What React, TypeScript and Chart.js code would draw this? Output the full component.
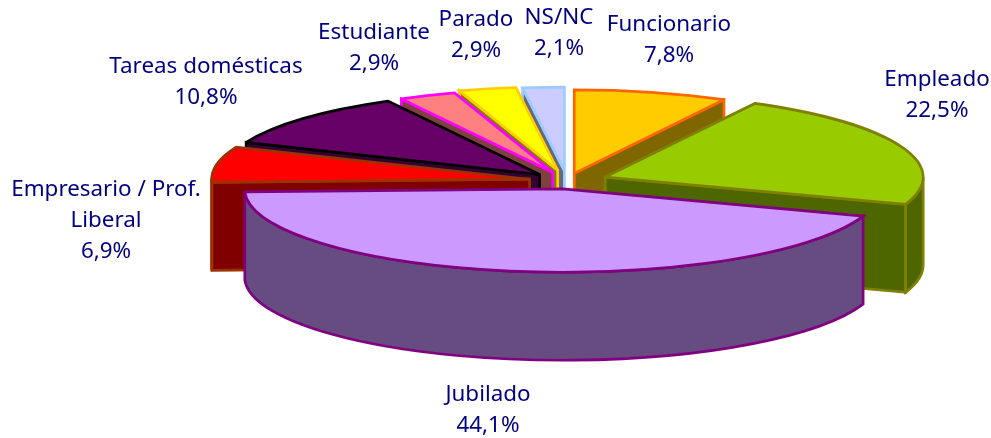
import { useEffect, useRef } from "react";
import { Chart, registerables } from "chart.js";

Chart.register(...registerables);

const categories = ["Funcionario", "Empleado", "Jubilado", "Empresario / Prof.|Liberal", "Tareas domésticas", "Estudiante", "Parado", "NS/NC"];
const shares = [7.8, 22.5, 44.1, 6.9, 10.8, 2.9, 2.9, 2.1];

const topColors = ["#FFCC00", "#99CC00", "#CC99FF", "#FF0000", "#660066", "#FF8080", "#FFFF00", "#CCCCFF"];
const wallColors = ["#806600", "#4D6600", "#664C80", "#800000", "#330033", "#804040", "#808000", "#666680"];
const edgeColors = ["#FF6600", "#808000", "#800080", "#993300", "#000000", "#FF00FF", "#FFCC00", "#99CCFF"];
const explode = [30, 41, 30, 38, 37, 36, 42, 40];
const drawOrder = [0, 7, 6, 5, 4, 3, 1, 2];
const labelCentres: [number, number][] = [
  [669, 25], [937, 80], [488, 395], [106, 190], [206, 67], [374, 33], [476, 20], [559, 18],
];

const SQUASH = 0.2625;
const DEPTH = 88;
const LINE_HEIGHT = 31;
const FONT = '22.4px "Noto Sans"';

const pie3d = {
  id: "pie3d",
  beforeDatasetDraw(chart: any, args: any) {
    const ctx: CanvasRenderingContext2D = chart.ctx;
    const arcs = args.meta.data;
    const outline = (colour: string) => {
      ctx.lineWidth = 2.7;
      ctx.lineJoin = "miter";
      ctx.miterLimit = 3;
      ctx.strokeStyle = colour;
      ctx.stroke();
    };
    for (const i of drawOrder) {
      const arc = arcs[i];
      const { x, y, startAngle, endAngle, outerRadius: R } = arc.getProps(["x", "y", "startAngle", "endAngle", "outerRadius"]);
      const off = arc.options.offset || 0;
      const mid = (startAngle + endAngle) / 2;
      const ax = x + Math.cos(mid) * off;
      const ay = y + Math.sin(mid) * off * SQUASH;
      const px = (a: number) => ax + Math.cos(a) * R;
      const py = (a: number) => ay + Math.sin(a) * R * SQUASH;
      const radial = (a: number) => {
        ctx.beginPath();
        ctx.moveTo(ax, ay);
        ctx.lineTo(px(a), py(a));
        ctx.lineTo(px(a), py(a) + DEPTH);
        ctx.lineTo(ax, ay + DEPTH);
        ctx.closePath();
        ctx.fillStyle = wallColors[i];
        ctx.fill();
        outline(edgeColors[i]);
      };
      if (Math.cos(endAngle) > 0) radial(endAngle);
      if (Math.cos(startAngle) < 0) radial(startAngle);

      const a0 = Math.max(startAngle, 0);
      const a1 = Math.min(endAngle, Math.PI);
      if (a1 > a0) {
        ctx.beginPath();
        ctx.ellipse(ax, ay, R, R * SQUASH, 0, a0, a1);
        ctx.lineTo(px(a1), py(a1) + DEPTH);
        ctx.ellipse(ax, ay + DEPTH, R, R * SQUASH, 0, a1, a0, true);
        ctx.closePath();
        ctx.fillStyle = wallColors[i];
        ctx.fill();
        outline(edgeColors[i]);
      }

      ctx.beginPath();
      ctx.moveTo(ax, ay);
      ctx.ellipse(ax, ay, R, R * SQUASH, 0, startAngle, endAngle);
      ctx.closePath();
      ctx.fillStyle = topColors[i];
      ctx.fill();
      outline(edgeColors[i]);
    }
    return false;
  },
  afterDraw(chart: any) {
    const ctx: CanvasRenderingContext2D = chart.ctx;
    ctx.save();
    ctx.font = FONT;
    ctx.fillStyle = "#000080";
    ctx.textAlign = "center";
    ctx.textBaseline = "middle";
    categories.forEach((name, i) => {
      const lines = [...name.split("|"), shares[i].toFixed(1).replace(".", ",") + "%"];
      const [cx, cy] = labelCentres[i];
      lines.forEach((line, j) => ctx.fillText(line, cx, cy + j * LINE_HEIGHT));
    });
    ctx.restore();
  },
};

export default function App() {
  const ref = useRef<HTMLCanvasElement>(null);
  useEffect(() => {
    const chart = new Chart(ref.current!, {
      type: "pie",
      data: {
        labels: categories,
        datasets: [{ data: shares, backgroundColor: topColors, borderColor: edgeColors, offset: explode, radius: 318 } as any],
      },
      options: {
        animation: false,
        responsive: false,
        layout: { padding: { left: 143, right: 0, top: 0, bottom: 76 } },
        plugins: { legend: { display: false }, tooltip: { enabled: false } },
      },
      plugins: [pie3d],
    } as any);
    return () => chart.destroy();
  }, []);
  return (
    <div style={{ position: "absolute", left: 0, top: 0, width: 991, height: 438, background: "#fff" }}>
      <canvas ref={ref} width={991} height={438} style={{ display: "block" }} />
    </div>
  );
}
